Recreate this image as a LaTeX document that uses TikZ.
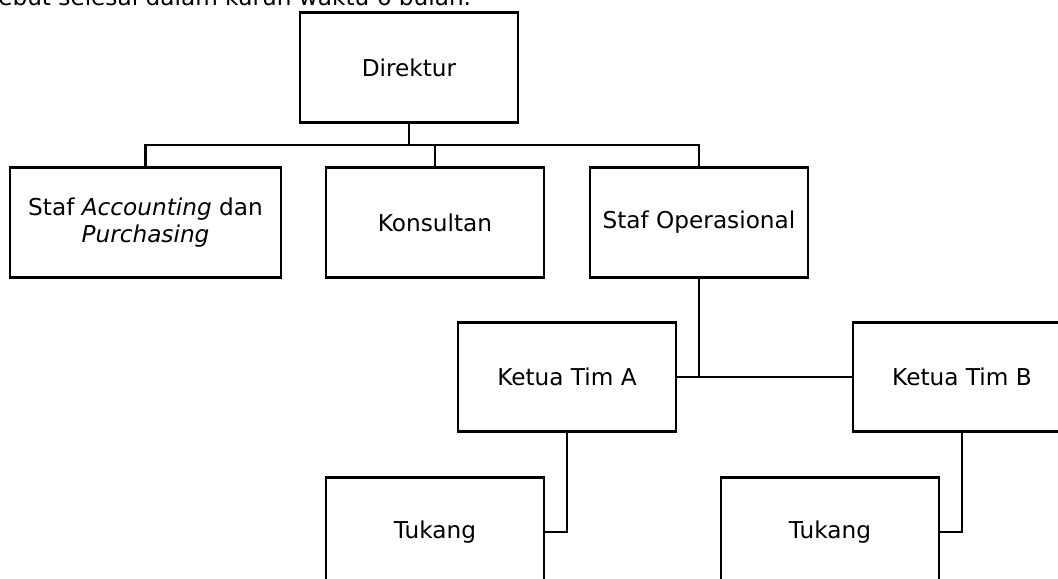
\documentclass[tikz,border=0pt]{standalone}
\usepackage{fontspec}
\setmainfont{DejaVu Sans}
\begin{document}
\begin{tikzpicture}[x=0.75pt,y=-0.75pt,
  box/.style={draw=black,line width=2.2pt,rectangle,minimum width=163.5pt,minimum height=82pt,inner sep=0pt,align=center,font=\fontsize{17.4}{20}\selectfont},
  conn/.style={draw=black,line width=2.2pt}]
\useasboundingbox (0,0) rectangle (1058,579);
\clip (0,0) rectangle (1058,579);
\node[anchor=base west,inner sep=0pt,font=\fontsize{17.4}{20}\selectfont] (txt) at (-2,5) {ebut selesai dalam kurun waktu 6 bulan.};
\node[box] (dir) at (409,67.5) {Direktur};
\node[box,minimum width=203.25pt] (acc) at (145.5,222.5) {Staf \textit{Accounting} dan\\\textit{Purchasing}};
\node[box] (kon) at (435,222.5) {Konsultan};
\node[box] (ops) at (699,222.5) {Staf Operasional};
\node[box] (ka) at (567,377) {Ketua Tim A};
\node[box] (kb) at (962,377) {Ketua Tim B};
\node[box] (ta) at (435,532) {Tukang};
\node[box] (tb) at (830,532) {Tukang};
\coordinate (bus) at (409,145);
\draw[conn] (dir.south) -- (dir.south |- bus);
\draw[conn] (acc.north) -- (acc.north |- bus) -- (ops.north |- bus) -- (ops.north);
\draw[conn] (kon.north) -- (kon.north |- bus);
\draw[conn] (ops.south) -- (ops.south |- ka.east);
\draw[conn] (ka.east) -- (kb.west);
\draw[conn] (ka.south) |- (ta.east);
\draw[conn] (kb.south) |- (tb.east);
\end{tikzpicture}
\end{document}
